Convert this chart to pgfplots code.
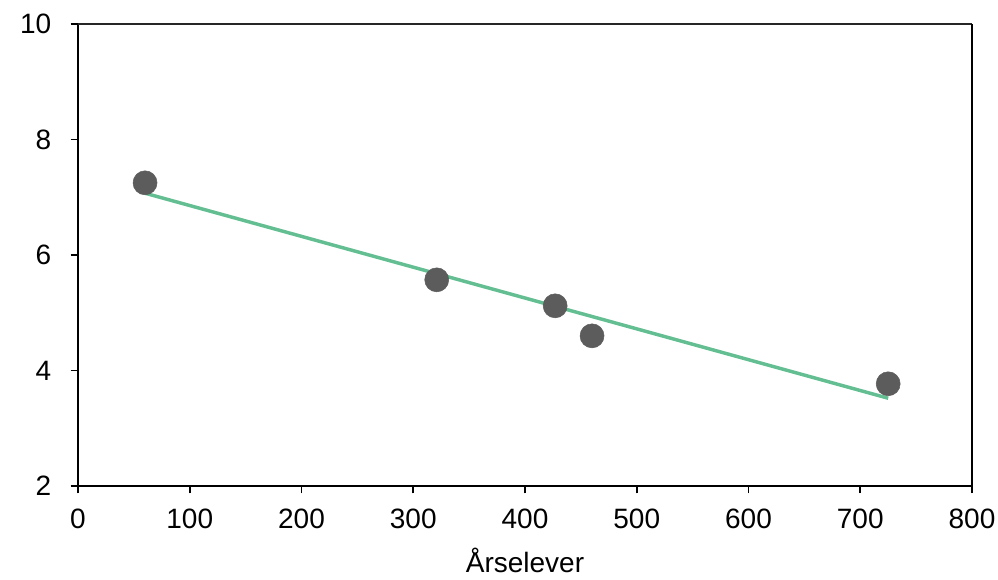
\documentclass[border=0pt]{standalone}
\usepackage{pgfplots}
\pgfplotsset{compat=1.18}
\usepackage{fontspec}
\setmainfont{Liberation Sans}
\definecolor{pts}{RGB}{92,92,92}
\definecolor{trend}{RGB}{99,190,145}
\begin{document}
\begin{tikzpicture}
\path[use as bounding box] (-58.5pt,-70.5pt) rectangle (690pt,364.5pt);
\begin{axis}[
  at={(0,0)}, anchor=south west,
  scale only axis,
  width=670.5pt, height=346.5pt,
  xmin=0, xmax=800, ymin=2, ymax=10,
  xtick={0,100,...,800}, ytick={2,4,...,10},
  axis lines=left,
  axis line style={-, line width=2pt, black},
  tick align=outside,
  major tick length=5.5pt,
  tick style={line width=1.3pt, black},
  /pgf/number format/assume math mode=true,
  tick label style={font=\fontsize{21}{25}\selectfont},
  yticklabel style={xshift=-11pt},
  xticklabel style={yshift=-8pt},
  xlabel={Årselever},
  xlabel style={font=\fontsize{21}{25}\selectfont, yshift=-8pt},
  clip=false,
]
\addplot[trend, line width=2.6pt] coordinates {(60,7.07) (725,3.52)};
\addplot[only marks, mark=*, mark size=9pt, mark options={fill=pts, draw=pts}] coordinates {
(60,7.25) (321,5.57) (427,5.12) (460,4.60) (725,3.77)};
\draw[line width=1pt, black!85] (rel axis cs:0,1) -- (rel axis cs:1,1);
\draw[line width=2pt, black] (rel axis cs:1,0) -- (rel axis cs:1,1);
\end{axis}
\end{tikzpicture}
\end{document}
